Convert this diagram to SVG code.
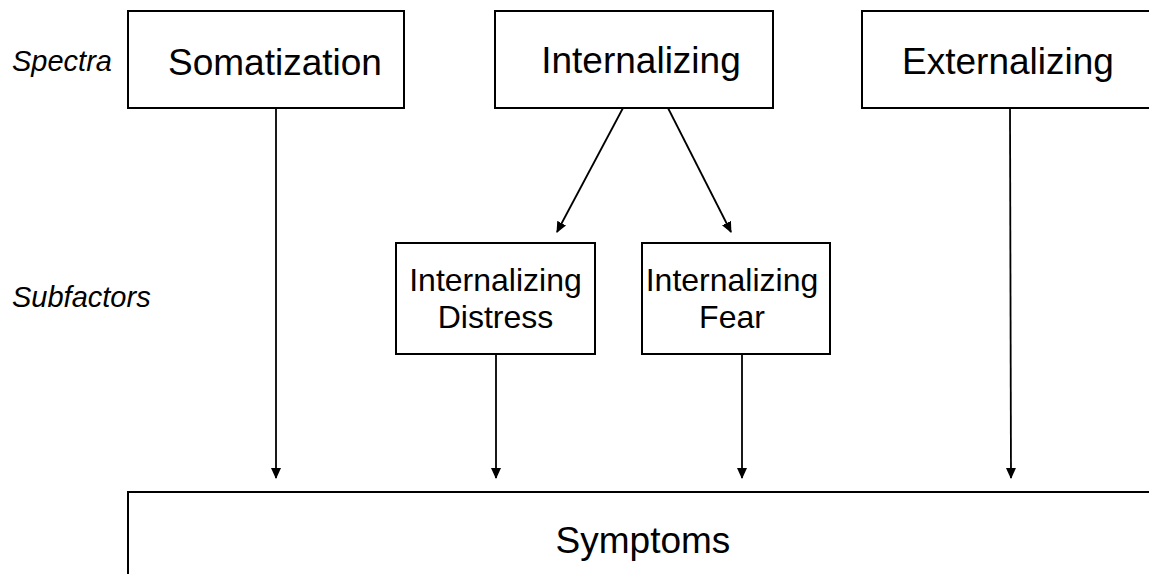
<svg xmlns="http://www.w3.org/2000/svg" width="1149" height="574" viewBox="0 0 1149 574">
  <style>
    .box { fill: #fff; stroke: #000; stroke-width: 2; }
    .lbl { font-family: "Liberation Sans", Arial, sans-serif; fill: #000; }
    .big { font-size: 37px; }
    .mid { font-size: 32px; }
    .side { font-size: 29px; font-style: italic; }
    .link { stroke: #000; stroke-width: 1.8; fill: none; marker-end: url(#arrow); }
  </style>
  <defs>
    <marker id="arrow" markerWidth="11" markerHeight="11" refX="10" refY="5.5" orient="auto" markerUnits="userSpaceOnUse">
      <path d="M0,0.5 L11,5.5 L0,10.5 Z" fill="#000"/>
    </marker>
  </defs>
  <rect width="1149" height="574" fill="#fff"/>

  <!-- level labels -->
  <text class="lbl side" x="12" y="71">Spectra</text>
  <text class="lbl side" x="12" y="307">Subfactors</text>

  <!-- connectors -->
  <g id="connectors">
    <line class="link" x1="276" y1="108" x2="276" y2="478"/>
    <line class="link" x1="623" y1="108" x2="557" y2="232"/>
    <line class="link" x1="668" y1="108" x2="731" y2="232"/>
    <line class="link" x1="496" y1="354" x2="496" y2="478"/>
    <line class="link" x1="742" y1="354" x2="742" y2="478"/>
    <line class="link" x1="1010" y1="108" x2="1011" y2="478"/>
  </g>

  <g id="somatization">
    <rect class="box" x="128" y="11" width="276" height="97"/>
    <text class="lbl big" x="275" y="75" text-anchor="middle">Somatization</text>
  </g>
  <g id="internalizing">
    <rect class="box" x="495" y="11" width="278" height="97"/>
    <text class="lbl big" x="641" y="73" text-anchor="middle">Internalizing</text>
  </g>
  <g id="externalizing">
    <rect class="box" x="862" y="11" width="300" height="97"/>
    <text class="lbl big" x="1008" y="74" text-anchor="middle">Externalizing</text>
  </g>
  <g id="distress">
    <rect class="box" x="396" y="243" width="199" height="111"/>
    <text class="lbl mid" x="495.5" y="291" text-anchor="middle">Internalizing</text>
    <text class="lbl mid" x="495.5" y="328" text-anchor="middle">Distress</text>
  </g>
  <g id="fear">
    <rect class="box" x="642" y="243" width="188" height="111"/>
    <text class="lbl mid" x="732" y="291" text-anchor="middle">Internalizing</text>
    <text class="lbl mid" x="732" y="328" text-anchor="middle">Fear</text>
  </g>
  <g id="symptoms">
    <rect class="box" x="128" y="492" width="1040" height="100"/>
    <text class="lbl big" x="643" y="553" text-anchor="middle">Symptoms</text>
  </g>
</svg>
